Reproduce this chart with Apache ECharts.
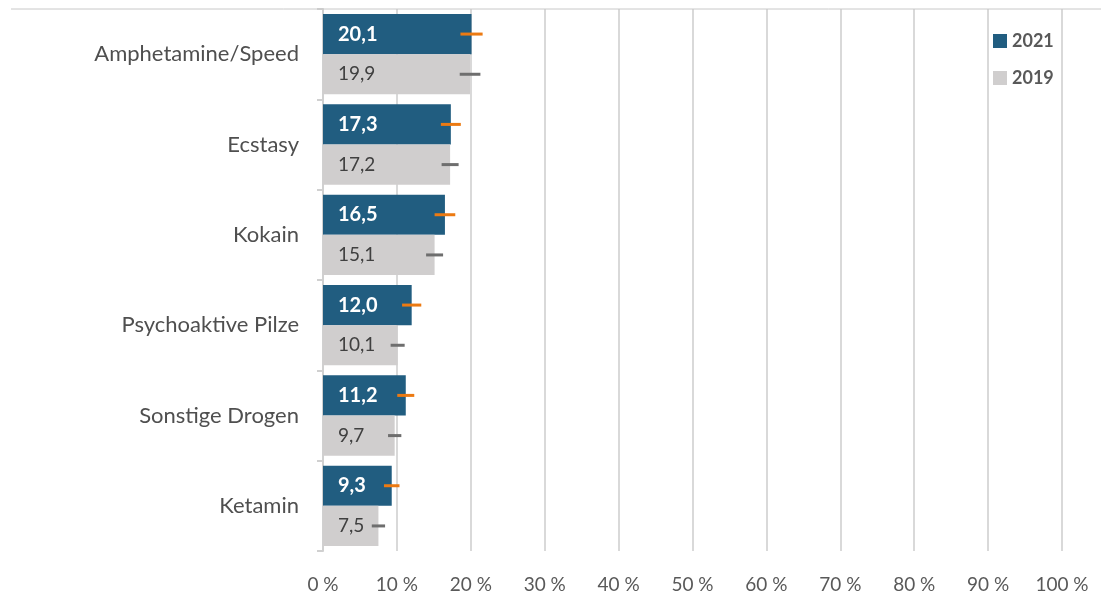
<!DOCTYPE html>
<html><head><meta charset="utf-8">
<script src="https://cdn.jsdelivr.net/npm/echarts@6/dist/echarts.min.js"></script>
<style>html,body{margin:0;padding:0;background:#fff}#c{width:1101px;height:599px}</style>
</head><body><div id="c"></div>
<script>
const categories = ['Amphetamine/Speed','Ecstasy','Kokain','Psychoaktive Pilze','Sonstige Drogen','Ketamin'];
const values2021 = [20.1, 17.3, 16.5, 12.0, 11.2, 9.3];
const values2019 = [19.9, 17.2, 15.1, 10.1, 9.7, 7.5];
const ci2021 = [1.5, 1.35, 1.4, 1.3, 1.15, 1.05];
const ci2019 = [1.4, 1.15, 1.15, 0.95, 0.9, 0.9];
const xTicks = [0,10,20,30,40,50,60,70,80,90,100];

const FONT = 'Lato';
const fmt = v => v.toFixed(1).replace('.', ',');
const catGap = 0.11;

function errSeries(name, vals, cis, color, side) {
  return {
    type: 'custom', name: name + ' KI', silent: true, z: 5,
    data: vals.map((v, i) => [v - cis[i], v + cis[i], i]),
    encode: { x: [0, 1], y: 2 },
    renderItem: function (params, api) {
      const a = api.coord([api.value(0), api.value(2)]);
      const b = api.coord([api.value(1), api.value(2)]);
      const bw = api.size([0, 1])[1];
      const off = side * bw * (1 - catGap) / 4;
      return { type: 'line', shape: { x1: a[0], y1: a[1] + off, x2: b[0], y2: b[1] + off },
        style: { stroke: color, lineWidth: 3 } };
    }
  };
}

const chart = echarts.init(document.getElementById('c'));
chart.setOption({
  animation: false,
  textStyle: { fontFamily: FONT },
  grid: { left: 323, right: 39, top: 9, bottom: 48, containLabel: false },
  legend: {
    orient: 'vertical', left: 988, top: 27, itemGap: 19, itemWidth: 14, itemHeight: 14, icon: 'rect',
    data: ['2021', '2019'],
    textStyle: { fontFamily: FONT, fontSize: 18, color: '#595959', fontWeight: 'bold' }
  },
  xAxis: {
    type: 'value', min: 0, max: 100, interval: 10,
    axisLine: { show: false }, axisTick: { show: false },
    splitLine: { show: true, lineStyle: { color: '#d9d9d9', width: 2 } },
    axisLabel: { formatter: '{value} %', color: '#595959', fontSize: 19, margin: 24, fontFamily: FONT }
  },
  yAxis: {
    type: 'category', data: categories, inverse: true,
    axisLine: { show: true, lineStyle: { color: '#d0d0d0', width: 2 } },
    axisTick: { show: true, length: 6, lineStyle: { color: '#d0d0d0', width: 2 } },
    axisLabel: { color: '#4f4f4f', fontSize: 22, margin: 24, fontFamily: FONT }
  },
  graphic: [{ type: 'line', shape: { x1: 11, y1: 9, x2: 1101, y2: 9 }, style: { stroke: '#c8c8c8', lineWidth: 1 }, z: 10 }],
  series: [
    { name: '2021', type: 'bar', data: values2021, barGap: '0%', barCategoryGap: '11%',
      itemStyle: { color: '#215D80' },
      label: { show: true, position: 'insideLeft', distance: 15, color: '#ffffff', fontWeight: 'bold', fontSize: 20, fontFamily: FONT, formatter: p => fmt(p.value) } },
    { name: '2019', type: 'bar', data: values2019, barGap: '0%', barCategoryGap: '11%',
      itemStyle: { color: '#D0CECE' },
      label: { show: true, position: 'insideLeft', distance: 15, color: '#404040', fontSize: 19, fontFamily: FONT, formatter: p => fmt(p.value) } },
    errSeries('2021', values2021, ci2021, '#EC7A12', -1),
    errSeries('2019', values2019, ci2019, '#6e6e6e', 1)
  ]
});
</script></body></html>
